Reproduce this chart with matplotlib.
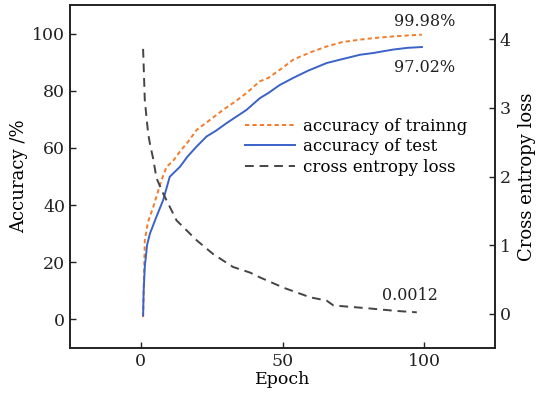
import matplotlib
matplotlib.use("Agg")
import matplotlib.pyplot as plt

plt.rcParams["font.family"] = ["DejaVu Serif"]

# training accuracy (%)
train_epoch = [0.8, 1.4, 2.5, 4.4, 7.3, 9.1, 11.4, 14.0, 16.7, 19.7, 24.0, 29.0, 33.0,
               37.3, 42.0, 45.0, 50.0, 53.8, 60.0, 65.6, 71.0, 77.4, 83.0, 89.0, 95.0, 99.2]
train_acc = [0.8, 27.7, 34.0, 39.4, 48.8, 53.4, 55.5, 59.0, 62.2, 66.3, 69.5, 73.3, 76.0,
             79.2, 83.3, 84.5, 88.0, 90.9, 93.5, 95.5, 97.0, 97.9, 98.5, 99.0, 99.4, 99.6]

# test accuracy (%)
test_epoch = [0.8, 1.0, 1.4, 2.2, 3.2, 5.5, 7.9, 10.2, 13.8, 16.5, 19.7, 23.2, 26.5, 30.3,
              33.5, 37.3, 42.0, 45.0, 49.0, 53.8, 59.0, 65.6, 70.0, 77.4, 82.0, 89.0, 94.0, 99.2]
test_acc = [1.4, 10.0, 18.4, 26.0, 30.0, 35.9, 41.8, 49.9, 53.4, 57.0, 60.5, 64.0, 66.0, 68.7,
            70.8, 73.3, 77.4, 79.2, 82.0, 84.5, 87.0, 89.7, 90.8, 92.6, 93.2, 94.4, 95.0, 95.3]

# cross entropy loss
loss_epoch = [0.8, 1.4, 2.6, 3.2, 4.4, 5.5, 7.9, 12.6, 19.7, 25.5, 32.6, 38.5, 42.0, 50.3,
              59.7, 65.6, 68.0, 79.8, 90.3, 97.4]
loss_val = [3.86, 3.11, 2.62, 2.48, 2.25, 1.98, 1.75, 1.36, 1.07, 0.87, 0.68, 0.60, 0.53, 0.38,
            0.24, 0.19, 0.12, 0.08, 0.04, 0.02]

fig = plt.figure(figsize=(5.37, 4.03), dpi=100)
ax = fig.add_axes([70 / 537, 1 - 348 / 403, 425 / 537, 343 / 403])
ax2 = ax.twinx()

l1, = ax.plot(train_epoch, train_acc, linestyle=(0, (2.2, 1.6)), color="#F47B2A", lw=1.4,
              label="accuracy of trainng")
l2, = ax.plot(test_epoch, test_acc, "-", color="#3A63C8", lw=1.4, label="accuracy of test")
l3, = ax2.plot(loss_epoch, loss_val, linestyle=(0, (4.5, 3.0)), color="#444444", lw=1.4,
               label="cross entropy loss")

ax.set_xlim(-25, 125)
ax.set_ylim(-10, 110)
ax2.set_ylim(-0.5, 4.5)
ax.set_xticks([0, 50, 100])
ax.set_yticks([0, 20, 40, 60, 80, 100])
ax2.set_yticks([0, 1, 2, 3, 4])

for a in (ax, ax2):
    a.tick_params(direction="in", length=4, width=1, labelsize=12.5, colors="#222222")
    for s in a.spines.values():
        s.set_linewidth(1.2)
        s.set_color("#222222")

ax.set_xlabel("Epoch", fontsize=12.5, labelpad=1)
ax.set_ylabel("Accuracy /%", fontsize=13, labelpad=3)
ax2.set_ylabel("Cross entropy loss", fontsize=13, labelpad=5)

ax.text(111, 104.2, "99.98%", ha="right", va="center", fontsize=11.5, color="#222222")
ax.text(111, 88, "97.02%", ha="right", va="center", fontsize=11.5, color="#222222")
ax2.text(105, 0.26, "0.0012", ha="right", va="center", fontsize=11.5, color="#222222")

ax.legend(handles=[l1, l2, l3], loc="upper left", bbox_to_anchor=(0.395, 0.69),
          frameon=False, fontsize=12, handlelength=3.0, handletextpad=0.5,
          labelspacing=0.2, borderaxespad=0)

fig.savefig("out.png", dpi=100)
